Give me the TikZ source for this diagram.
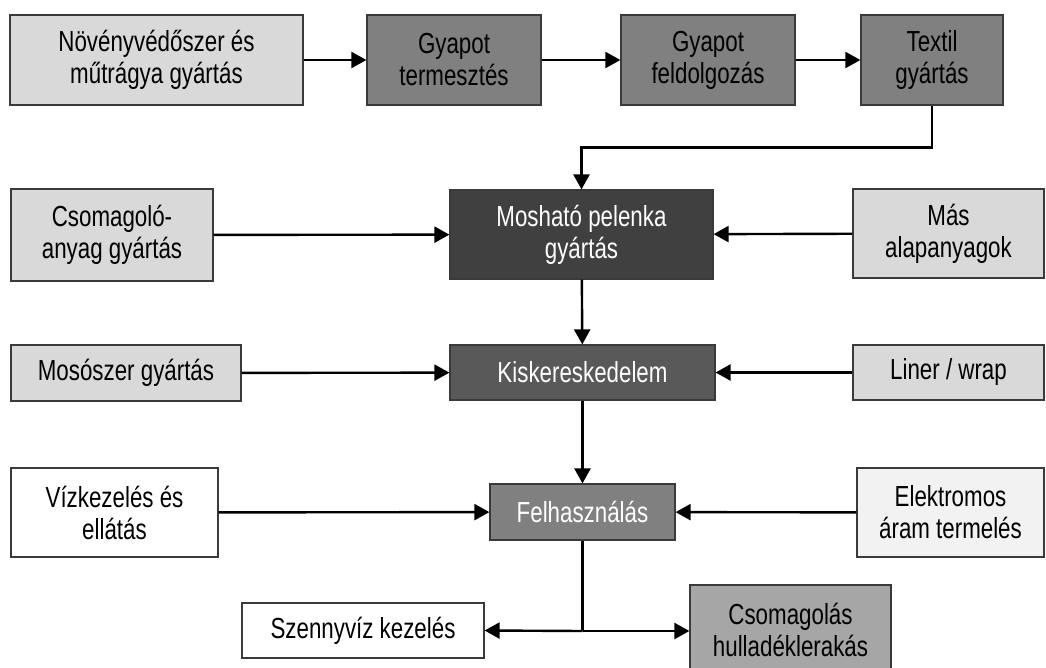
\documentclass[tikz,border=0pt]{standalone}
\usepackage{fontspec}
\setmainfont{Liberation Sans}[FakeStretch=0.77]
\usetikzlibrary{arrows.meta}
\definecolor{lightbox}{HTML}{D9D9D9}
\definecolor{midbox}{HTML}{808080}
\definecolor{darkbox}{HTML}{404040}
\definecolor{retailbox}{HTML}{595959}
\definecolor{wastebox}{HTML}{A6A6A6}
\definecolor{palebox}{HTML}{F2F2F2}
\definecolor{edge}{HTML}{3A3A3A}
\tikzset{
  box/.style={draw=edge, line width=1.2pt, inner sep=0pt, align=center,
    font=\fontsize{29}{32}\selectfont},
  lighttext/.style={text=white},
  flow/.style={line width=2.4pt, -{Triangle[length=15pt,width=16pt]}},
  plain/.style={line width=2.4pt}
}
\begin{document}
\begin{tikzpicture}[x=1pt,y=-1pt]
\useasboundingbox (0,0) rectangle (1046,668);
\clip (0,0) rectangle (1046,668);
% top row: supply chain of the fabric
\node[box, fill=lightbox, minimum width=293pt, minimum height=90pt] (pest) at (156.5,60) {Növényvédőszer és\\műtrágya gyártás};
\node[box, fill=midbox, minimum width=174pt, minimum height=90pt] (grow) at (454,60) {Gyapot\\termesztés};
\node[box, fill=midbox, minimum width=174pt, minimum height=90pt] (proc) at (708,60) {Gyapot\\feldolgozás};
\node[box, fill=midbox, minimum width=142pt, minimum height=90pt] (text) at (932,60) {Textil\\gyártás};
% production row
\node[box, fill=lightbox, minimum width=202pt, minimum height=92pt] (pack) at (112,235) {Csomagoló-\\anyag gyártás};
\node[box, fill=darkbox, lighttext, minimum width=263pt, minimum height=89pt] (diaper) at (581.5,234.5) {Mosható pelenka\\gyártás};
\node[box, fill=lightbox, minimum width=191pt, minimum height=89pt] (other) at (948.5,233.5) {Más\\alapanyagok};
% retail row
\node[box, fill=lightbox, minimum width=230pt, minimum height=56pt] (deterg) at (126,373) {Mosószer gyártás};
\node[box, fill=retailbox, lighttext, minimum width=265pt, minimum height=55pt] (retail) at (582.5,372.5) {Kiskereskedelem};
\node[box, fill=lightbox, minimum width=191pt, minimum height=55pt] (liner) at (948.5,372.5) {Liner / wrap};
% use row
\node[box, fill=white, minimum width=207pt, minimum height=89pt] (water) at (114.5,512.5) {Vízkezelés és\\ellátás};
\node[box, fill=midbox, lighttext, minimum width=185pt, minimum height=56pt] (use) at (582.5,512) {Felhasználás};
\node[box, fill=palebox, minimum width=187pt, minimum height=89pt] (power) at (950.5,512.5) {Elektromos\\áram termelés};
% end of life
\node[box, fill=white, minimum width=242pt, minimum height=55pt] (sewage) at (363,630.5) {Szennyvíz kezelés};
\node[box, fill=wastebox, minimum width=201pt, minimum height=90pt] (landfill) at (790.5,630) {Csomagolás\\hulladéklerakás};
% connectors
\draw[flow] (pest) -- (grow);
\draw[flow] (grow) -- (proc);
\draw[flow] (proc) -- (text);
\draw[flow] (text.south) -- ++(0,42) -| (diaper.north);
\draw[flow] (pack) -- (diaper);
\draw[flow] (other) -- (diaper);
\draw[flow] (diaper) -- (retail);
\draw[flow] (deterg) -- (retail);
\draw[flow] (liner) -- (retail);
\draw[flow] (retail) -- (use);
\draw[flow] (water) -- (use);
\draw[flow] (power) -- (use);
\coordinate (split) at (582.5,631);
\draw[plain] (use.south) -- (split);
\draw[flow] (split) -- (sewage.east);
\draw[flow] (split) -- (split -| landfill.west);
\end{tikzpicture}
\end{document}
